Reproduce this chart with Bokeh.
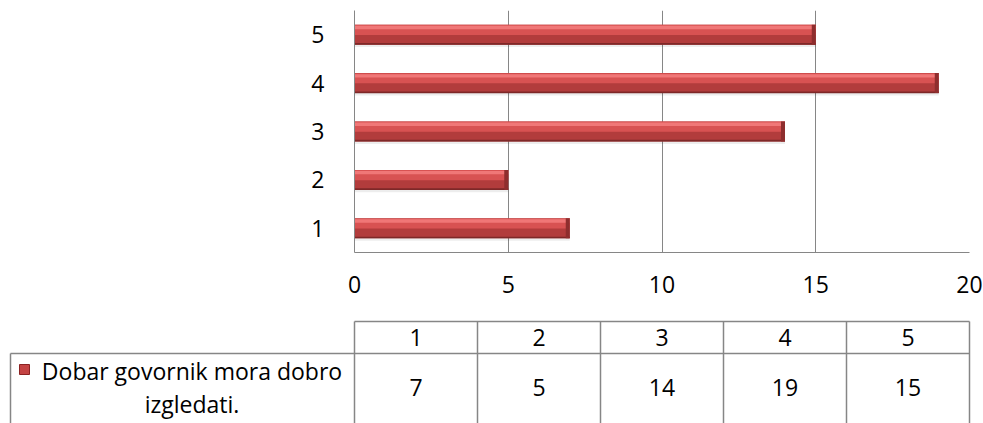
from bokeh.plotting import figure
from bokeh.models import ColumnDataSource, FactorRange, Range1d, FixedTicker
from bokeh.transform import dodge
from bokeh.core.properties import value
from bokeh.embed import file_html
from bokeh.resources import INLINE

# ---- data ----
categories = ["1", "2", "3", "4", "5"]
counts = [7, 5, 14, 19, 15]
series_name = "Dobar govornik mora dobro izgledati."
x_ticks = [0, 5, 10, 15, 20]

FONT = "Open Sans"
FS = "23px"
GRID = "#868686"

src = ColumnDataSource(dict(cat=categories, val=counts))

# ---- bar chart ----
p = figure(width=983, height=310, y_range=FactorRange(factors=categories),
           x_range=Range1d(0, 20), output_backend="svg", toolbar_location=None,
           min_border_left=354, min_border_right=14, min_border_top=10,
           min_border_bottom=58)
p.y_range.range_padding = 0
p.outline_line_color = None
p.background_fill_color = "white"

H = 0.413
# shadow
p.hbar(y=dodge("cat", -0.05, range=p.y_range), left=0, right="val", height=H,
       source=src, fill_color="#000000", fill_alpha=0.07, line_color=None)
# base
p.hbar(y="cat", left=0, right="val", height=H, source=src,
       fill_color="#B23C3C", line_color=None)
# upper body
p.hbar(y=dodge("cat", 0.10, range=p.y_range), left=0, right="val", height=0.21,
       source=src, fill_color="#D85252", line_color=None)
# highlight
p.hbar(y=dodge("cat", 0.15, range=p.y_range), left=0, right="val", height=0.07,
       source=src, fill_color="#F07777", line_color=None)
# bottom edge
p.hbar(y=dodge("cat", -0.19, range=p.y_range), left=0, right="val", height=0.035,
       source=src, fill_color="#7E2828", line_color=None)
# right bevel
p.hbar(y="cat", left=dodge("val", -0.13), right="val", height=H, source=src,
       fill_color="#8E2E2E", line_color=None)

p.xaxis.ticker = FixedTicker(ticks=x_ticks)
for ax in (p.xaxis[0], p.yaxis[0]):
    ax.major_tick_line_color = None
    ax.minor_tick_line_color = None
    ax.axis_line_color = GRID
    ax.axis_line_width = 1
    ax.major_label_text_font = FONT
    ax.major_label_text_font_size = FS
    ax.major_label_text_color = "black"
p.xaxis.major_label_standoff = 17
p.yaxis.major_label_standoff = 24
p.ygrid.grid_line_color = None
p.xgrid.grid_line_color = GRID
p.xgrid.grid_line_width = 1

# ---- data table ----
PX = 615 / 20.0  # pixels per x unit (table aligned with chart)
t = figure(width=983, height=113, output_backend="svg", toolbar_location=None,
           x_range=Range1d(-354 / PX, 20 + 14 / PX), y_range=Range1d(0, 104),
           x_axis_location=None, y_axis_location=None,
           min_border_left=0, min_border_right=0, min_border_top=9,
           min_border_bottom=0)
t.outline_line_color = None
t.grid.visible = False

col_edges = [4 * i for i in range(len(categories) + 1)]
col_centers = [4 * i + 2 for i in range(len(categories))]
left_edge = -344 / PX
Y_TOP, Y_MID, Y_BOT = 102, 70, -10
LW = 1.5
t.segment(x0=[0], y0=[Y_TOP], x1=[20], y1=[Y_TOP], line_color=GRID, line_width=LW)
t.segment(x0=[left_edge], y0=[Y_MID], x1=[20], y1=[Y_MID], line_color=GRID, line_width=LW)
t.segment(x0=col_edges, y0=[Y_TOP] * len(col_edges), x1=col_edges,
          y1=[Y_BOT] * len(col_edges), line_color=GRID, line_width=LW)
t.segment(x0=[left_edge], y0=[Y_MID], x1=[left_edge], y1=[Y_BOT],
          line_color=GRID, line_width=LW)

tsrc = ColumnDataSource(dict(x=col_centers, cat=categories,
                             val=[str(v) for v in counts]))
t.text(x="x", y=86, text="cat", source=tsrc, text_align="center",
       text_baseline="middle", text_font=value(FONT), text_font_size=FS,
       text_color="black")
t.text(x="x", y=36, text="val", source=tsrc, text_align="center",
       text_baseline="middle", text_font=value(FONT), text_font_size=FS,
       text_color="black")

words = series_name.split(" ")
line1 = " ".join(words[:-1])
line2 = words[-1]
text_cx = -(354 - 191.5) / PX
t.text(x=[text_cx, text_cx], y=[53, 20], text=[line1, line2], text_align="center",
       text_baseline="middle", text_font=value(FONT), text_font_size=FS,
       text_color="black")
t.scatter(x=[-(354 - 24) / PX], y=[54], marker="square", size=10,
          fill_color="#C44343", line_color="#8B2222", line_width=1)

open("out.html", "w").write(file_html([p, t], INLINE))
